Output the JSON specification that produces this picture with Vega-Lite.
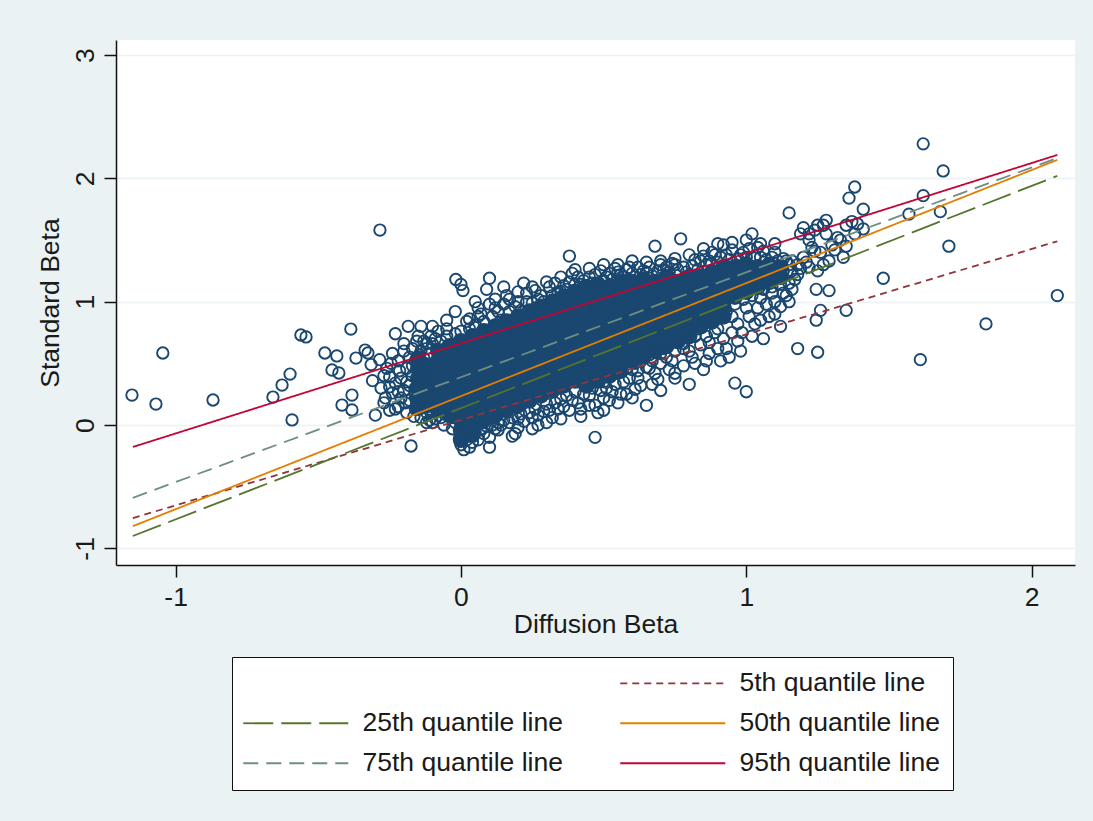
{"$schema":"https://vega.github.io/schema/vega-lite/v6.json","width":959,"height":525,"autosize":"none","padding":{"left":116,"top":40,"right":18,"bottom":256},"background":"#eaf2f3","view":{"fill":"white","stroke":null},"config":{"font":"Liberation Sans"},"datasets":{"dense":[
{"x":-0.15,"y":0.14},{"x":-0.15,"y":0.22},{"x":-0.15,"y":0.30},{"x":-0.15,"y":0.38},{"x":-0.15,"y":0.46},{"x":-0.15,"y":0.54},
{"x":0.44,"y":0.32},{"x":0.48,"y":0.36},{"x":0.52,"y":0.40},{"x":0.56,"y":0.44},{"x":0.60,"y":0.52},{"x":0.64,"y":0.56},{"x":0.68,"y":0.60},{"x":0.72,"y":0.64},{"x":0.76,"y":0.68},{"x":0.80,"y":0.72},{"x":0.84,"y":0.80},{"x":0.88,"y":0.84},{"x":0.92,"y":0.88},
{"x":-0.12,"y":0.16},{"x":-0.12,"y":0.24},{"x":-0.12,"y":0.32},{"x":-0.12,"y":0.40},{"x":-0.12,"y":0.48},
{"x":-0.08,"y":0.12},{"x":-0.08,"y":0.20},{"x":-0.08,"y":0.28},{"x":-0.08,"y":0.36},{"x":-0.08,"y":0.44},{"x":-0.08,"y":0.52},{"x":-0.08,"y":0.60},
{"x":-0.04,"y":0.08},{"x":-0.04,"y":0.16},{"x":-0.04,"y":0.24},{"x":-0.04,"y":0.32},{"x":-0.04,"y":0.40},{"x":-0.04,"y":0.48},{"x":-0.04,"y":0.56},{"x":-0.04,"y":0.64},
{"x":0.0,"y":-0.12},{"x":0.0,"y":-0.04},{"x":0.0,"y":0.04},{"x":0.0,"y":0.12},{"x":0.0,"y":0.20},{"x":0.0,"y":0.28},{"x":0.0,"y":0.36},{"x":0.0,"y":0.44},{"x":0.0,"y":0.52},{"x":0.0,"y":0.60},{"x":0.0,"y":0.68},
{"x":0.04,"y":-0.08},{"x":0.04,"y":0.0},{"x":0.04,"y":0.08},{"x":0.04,"y":0.16},{"x":0.04,"y":0.24},{"x":0.04,"y":0.32},{"x":0.04,"y":0.40},{"x":0.04,"y":0.48},{"x":0.04,"y":0.56},{"x":0.04,"y":0.64},{"x":0.04,"y":0.72},
{"x":0.08,"y":0.04},{"x":0.08,"y":0.12},{"x":0.08,"y":0.20},{"x":0.08,"y":0.28},{"x":0.08,"y":0.36},{"x":0.08,"y":0.44},{"x":0.08,"y":0.52},{"x":0.08,"y":0.60},{"x":0.08,"y":0.68},{"x":0.08,"y":0.76},
{"x":0.12,"y":0.08},{"x":0.12,"y":0.16},{"x":0.12,"y":0.24},{"x":0.12,"y":0.32},{"x":0.12,"y":0.40},{"x":0.12,"y":0.48},{"x":0.12,"y":0.56},{"x":0.12,"y":0.64},{"x":0.12,"y":0.72},{"x":0.12,"y":0.80},
{"x":0.16,"y":0.12},{"x":0.16,"y":0.20},{"x":0.16,"y":0.28},{"x":0.16,"y":0.36},{"x":0.16,"y":0.44},{"x":0.16,"y":0.52},{"x":0.16,"y":0.60},{"x":0.16,"y":0.68},{"x":0.16,"y":0.76},{"x":0.16,"y":0.84},
{"x":0.20,"y":0.16},{"x":0.20,"y":0.24},{"x":0.20,"y":0.32},{"x":0.20,"y":0.40},{"x":0.20,"y":0.48},{"x":0.20,"y":0.56},{"x":0.20,"y":0.64},{"x":0.20,"y":0.72},{"x":0.20,"y":0.80},{"x":0.20,"y":0.88},
{"x":0.24,"y":0.20},{"x":0.24,"y":0.28},{"x":0.24,"y":0.36},{"x":0.24,"y":0.44},{"x":0.24,"y":0.52},{"x":0.24,"y":0.60},{"x":0.24,"y":0.68},{"x":0.24,"y":0.76},{"x":0.24,"y":0.84},{"x":0.24,"y":0.92},
{"x":0.28,"y":0.24},{"x":0.28,"y":0.32},{"x":0.28,"y":0.40},{"x":0.28,"y":0.48},{"x":0.28,"y":0.56},{"x":0.28,"y":0.64},{"x":0.28,"y":0.72},{"x":0.28,"y":0.80},{"x":0.28,"y":0.88},{"x":0.28,"y":0.96},
{"x":0.32,"y":0.28},{"x":0.32,"y":0.36},{"x":0.32,"y":0.44},{"x":0.32,"y":0.52},{"x":0.32,"y":0.60},{"x":0.32,"y":0.68},{"x":0.32,"y":0.76},{"x":0.32,"y":0.84},{"x":0.32,"y":0.92},{"x":0.32,"y":1.00},
{"x":0.36,"y":0.32},{"x":0.36,"y":0.40},{"x":0.36,"y":0.48},{"x":0.36,"y":0.56},{"x":0.36,"y":0.64},{"x":0.36,"y":0.72},{"x":0.36,"y":0.80},{"x":0.36,"y":0.88},{"x":0.36,"y":0.96},{"x":0.36,"y":1.04},
{"x":0.40,"y":0.36},{"x":0.40,"y":0.44},{"x":0.40,"y":0.52},{"x":0.40,"y":0.60},{"x":0.40,"y":0.68},{"x":0.40,"y":0.76},{"x":0.40,"y":0.84},{"x":0.40,"y":0.92},{"x":0.40,"y":1.00},{"x":0.40,"y":1.08},
{"x":0.44,"y":0.40},{"x":0.44,"y":0.48},{"x":0.44,"y":0.56},{"x":0.44,"y":0.64},{"x":0.44,"y":0.72},{"x":0.44,"y":0.80},{"x":0.44,"y":0.88},{"x":0.44,"y":0.96},{"x":0.44,"y":1.04},{"x":0.44,"y":1.12},
{"x":0.48,"y":0.44},{"x":0.48,"y":0.52},{"x":0.48,"y":0.60},{"x":0.48,"y":0.68},{"x":0.48,"y":0.76},{"x":0.48,"y":0.84},{"x":0.48,"y":0.92},{"x":0.48,"y":1.00},{"x":0.48,"y":1.08},{"x":0.48,"y":1.14},
{"x":0.52,"y":0.48},{"x":0.52,"y":0.56},{"x":0.52,"y":0.64},{"x":0.52,"y":0.72},{"x":0.52,"y":0.80},{"x":0.52,"y":0.88},{"x":0.52,"y":0.96},{"x":0.52,"y":1.04},{"x":0.52,"y":1.12},
{"x":0.56,"y":0.52},{"x":0.56,"y":0.60},{"x":0.56,"y":0.68},{"x":0.56,"y":0.76},{"x":0.56,"y":0.84},{"x":0.56,"y":0.92},{"x":0.56,"y":1.00},{"x":0.56,"y":1.08},{"x":0.56,"y":1.16},
{"x":0.60,"y":0.60},{"x":0.60,"y":0.68},{"x":0.60,"y":0.76},{"x":0.60,"y":0.84},{"x":0.60,"y":0.92},{"x":0.60,"y":1.00},{"x":0.60,"y":1.08},{"x":0.60,"y":1.16},
{"x":0.64,"y":0.64},{"x":0.64,"y":0.72},{"x":0.64,"y":0.80},{"x":0.64,"y":0.88},{"x":0.64,"y":0.96},{"x":0.64,"y":1.04},{"x":0.64,"y":1.12},{"x":0.64,"y":1.18},
{"x":0.68,"y":0.68},{"x":0.68,"y":0.76},{"x":0.68,"y":0.84},{"x":0.68,"y":0.92},{"x":0.68,"y":1.00},{"x":0.68,"y":1.08},{"x":0.68,"y":1.16},
{"x":0.72,"y":0.72},{"x":0.72,"y":0.80},{"x":0.72,"y":0.88},{"x":0.72,"y":0.96},{"x":0.72,"y":1.04},{"x":0.72,"y":1.12},{"x":0.72,"y":1.20},
{"x":0.76,"y":0.76},{"x":0.76,"y":0.84},{"x":0.76,"y":0.92},{"x":0.76,"y":1.00},{"x":0.76,"y":1.08},{"x":0.76,"y":1.16},
{"x":0.80,"y":0.80},{"x":0.80,"y":0.88},{"x":0.80,"y":0.96},{"x":0.80,"y":1.04},{"x":0.80,"y":1.12},{"x":0.80,"y":1.20},
{"x":0.84,"y":0.88},{"x":0.84,"y":0.96},{"x":0.84,"y":1.04},{"x":0.84,"y":1.12},{"x":0.84,"y":1.20},
{"x":0.88,"y":0.92},{"x":0.88,"y":1.00},{"x":0.88,"y":1.08},{"x":0.88,"y":1.16},{"x":0.88,"y":1.24},
{"x":0.92,"y":0.96},{"x":0.92,"y":1.04},{"x":0.92,"y":1.12},{"x":0.92,"y":1.20},{"x":0.92,"y":1.28},
{"x":0.96,"y":1.04},{"x":0.96,"y":1.12},{"x":0.96,"y":1.20},{"x":0.96,"y":1.28},
{"x":1.00,"y":1.08},{"x":1.00,"y":1.16},{"x":1.00,"y":1.24},{"x":1.00,"y":1.30},
{"x":1.04,"y":1.12},{"x":1.04,"y":1.20},{"x":1.04,"y":1.28},
{"x":1.08,"y":1.16},{"x":1.08,"y":1.24},{"x":1.08,"y":1.30},
{"x":1.12,"y":1.20},{"x":1.12,"y":1.28}
],"hollow":[
{"x":-1.153,"y":0.243},{"x":-1.069,"y":0.17},{"x":-1.045,"y":0.584},{"x":-0.869,"y":0.203},{"x":-0.659,"y":0.227},{"x":-0.627,"y":0.324},{"x":-0.599,"y":0.413},{"x":-0.592,"y":0.041},{"x":-0.561,"y":0.73},{"x":-0.543,"y":0.714},{"x":-0.477,"y":0.584},{"x":-0.452,"y":0.446},{"x":-0.435,"y":0.56},{"x":-0.428,"y":0.422},{"x":-0.417,"y":0.162},{"x":-0.386,"y":0.778},{"x":-0.382,"y":0.243},{"x":-0.382,"y":0.122},{"x":-0.368,"y":0.543},{"x":-0.336,"y":0.608},{"x":-0.326,"y":0.584},{"x":-0.284,"y":1.581},
{"x":-0.315,"y":0.49},{"x":-0.31,"y":0.36},{"x":-0.30,"y":0.08},{"x":-0.285,"y":0.53},{"x":-0.27,"y":0.40},{"x":-0.265,"y":0.22},{"x":-0.25,"y":0.31},{"x":-0.245,"y":0.50},{"x":-0.23,"y":0.13},{"x":-0.23,"y":0.74},{"x":-0.22,"y":0.27},{"x":-0.215,"y":0.44},{"x":-0.20,"y":0.60},{"x":-0.195,"y":0.18},{"x":-0.19,"y":0.35},{"x":-0.185,"y":0.80},{"x":-0.175,"y":-0.17},{"x":-0.17,"y":0.48},{"x":-0.165,"y":0.07},{"x":-0.16,"y":0.24},{"x":-0.155,"y":0.68},{"x":-0.15,"y":0.37},{"x":-0.145,"y":0.57},{"x":-0.14,"y":0.80},{"x":-0.135,"y":0.14},{"x":-0.13,"y":0.46},{"x":-0.12,"y":0.66},{"x":-0.12,"y":0.02},{"x":-0.105,"y":0.72},{"x":-0.09,"y":0.05},{"x":-0.08,"y":0.76},{"x":-0.06,"y":0.0},{"x":-0.05,"y":0.78},{"x":-0.03,"y":-0.03},
{"x":-0.018,"y":1.18},{"x":0.0,"y":1.14},{"x":0.007,"y":1.09},{"x":-0.004,"y":-0.10},{"x":0.01,"y":-0.2},{"x":0.03,"y":0.86},{"x":0.04,"y":-0.14},{"x":0.06,"y":0.95},{"x":0.06,"y":0.88},{"x":0.09,"y":1.10},{"x":0.10,"y":0.98},{"x":0.10,"y":-0.18},{"x":0.10,"y":-0.10},{"x":0.10,"y":1.19},{"x":0.13,"y":0.92},{"x":0.13,"y":-0.04},{"x":0.16,"y":1.05},{"x":0.17,"y":1.02},{"x":0.18,"y":-0.09},{"x":0.19,"y":-0.07},{"x":0.22,"y":1.15},{"x":0.23,"y":1.0},{"x":0.25,"y":-0.03},{"x":0.26,"y":1.09},{"x":0.28,"y":1.05},{"x":0.30,"y":0.02},{"x":0.33,"y":1.15},{"x":0.35,"y":1.08},{"x":0.38,"y":0.12},{"x":0.38,"y":1.37},{"x":0.39,"y":1.23},{"x":0.42,"y":1.14},{"x":0.42,"y":0.07},{"x":0.45,"y":0.16},{"x":0.47,"y":-0.10},{"x":0.49,"y":1.25},{"x":0.48,"y":0.10},{"x":0.50,"y":0.22},{"x":0.51,"y":1.20},{"x":0.53,"y":0.27},{"x":0.55,"y":1.24},{"x":0.56,"y":0.25},{"x":0.59,"y":1.28},{"x":0.60,"y":0.45},{"x":0.61,"y":0.29},{"x":0.62,"y":0.38},{"x":0.64,"y":1.25},{"x":0.65,"y":0.16},{"x":0.66,"y":0.46},{"x":0.67,"y":0.33},{"x":0.68,"y":1.45},{"x":0.69,"y":0.37},{"x":0.70,"y":0.58},{"x":0.72,"y":1.28},{"x":0.74,"y":0.52},{"x":0.75,"y":1.30},{"x":0.77,"y":1.51},{"x":0.78,"y":0.62},{"x":0.80,"y":0.33},{"x":0.81,"y":0.55},{"x":0.82,"y":0.72},{"x":0.84,"y":1.33},{"x":0.86,"y":0.52},{"x":0.87,"y":0.67},{"x":0.89,"y":1.38},{"x":0.90,"y":0.78},{"x":0.91,"y":0.52},{"x":0.92,"y":1.46},{"x":0.94,"y":0.55},{"x":0.95,"y":0.88},{"x":0.96,"y":0.34},{"x":0.98,"y":0.60},{"x":0.985,"y":0.75},{"x":0.99,"y":1.40},{"x":1.0,"y":0.27},{"x":1.0,"y":0.95},{"x":1.02,"y":1.55},{"x":1.03,"y":0.82},{"x":1.04,"y":1.44},{"x":1.05,"y":1.03},{"x":1.06,"y":0.70},{"x":1.08,"y":0.88},{"x":1.09,"y":1.07},{"x":1.10,"y":1.40},{"x":1.12,"y":0.96},{"x":1.12,"y":0.80},{"x":1.14,"y":1.33},{"x":1.14,"y":1.05},{"x":1.15,"y":1.72},{"x":1.17,"y":1.18},{"x":1.19,"y":1.27},{"x":1.18,"y":0.62},{"x":1.19,"y":1.55},{"x":1.21,"y":1.32},{"x":1.22,"y":1.50},{"x":1.24,"y":1.41},{"x":1.24,"y":1.58},{"x":1.245,"y":1.10},{"x":1.245,"y":0.85},{"x":1.25,"y":0.59},{"x":1.26,"y":0.93},{"x":1.27,"y":1.62},{"x":1.29,"y":1.33},{"x":1.29,"y":1.09},{"x":1.30,"y":1.46},{"x":1.32,"y":1.52},{"x":1.34,"y":1.36},{"x":1.35,"y":0.93},{"x":1.35,"y":1.62},{"x":1.36,"y":1.84},{"x":1.38,"y":1.93},{"x":1.39,"y":1.63},{"x":1.41,"y":1.75},{"x":1.41,"y":1.59},{"x":1.48,"y":1.19},{"x":1.57,"y":1.71},{"x":1.61,"y":0.53},{"x":1.62,"y":1.86},{"x":1.62,"y":2.28},{"x":1.68,"y":1.73},{"x":1.69,"y":2.06},{"x":1.71,"y":1.45},{"x":1.84,"y":0.82},{"x":2.09,"y":1.05},
{"x":-0.28,"y":0.30},{"x":-0.27,"y":0.18},{"x":-0.26,"y":0.46},{"x":-0.25,"y":0.12},{"x":-0.25,"y":0.39},{"x":-0.24,"y":0.58},{"x":-0.24,"y":0.26},{"x":-0.23,"y":0.34},{"x":-0.22,"y":0.52},{"x":-0.22,"y":0.15},{"x":-0.21,"y":0.22},{"x":-0.21,"y":0.38},{"x":-0.20,"y":0.66},{"x":-0.20,"y":0.28},{"x":-0.19,"y":0.46},{"x":-0.19,"y":0.10},{"x":-0.18,"y":0.55},{"x":-0.18,"y":0.32},{"x":-0.18,"y":0.20},{"x":-0.17,"y":0.62},{"x":-0.17,"y":0.40},{"x":-0.16,"y":0.13},{"x":-0.16,"y":0.52},{"x":-0.16,"y":0.30},{"x":-0.15,"y":0.72},{"x":-0.15,"y":0.20},{"x":-0.15,"y":0.44},{"x":-0.14,"y":0.60},{"x":-0.14,"y":0.06},{"x":-0.14,"y":0.28},{"x":-0.13,"y":0.36},{"x":-0.13,"y":0.54},{"x":-0.13,"y":0.68},{"x":-0.12,"y":0.10},{"x":-0.12,"y":0.62},{"x":-0.11,"y":0.58},{"x":-0.11,"y":0.04},{"x":-0.10,"y":0.66},{"x":-0.10,"y":0.11},{"x":-0.09,"y":0.70},{"x":-0.07,"y":0.06},{"x":-0.07,"y":0.68},{"x":-0.05,"y":0.72},{"x":-0.02,"y":0.02},{"x":-0.02,"y":0.74},
{"x":0.0,"y":0.76},{"x":0.02,"y":0.84},{"x":0.03,"y":0.78},{"x":0.05,"y":0.81},{"x":0.07,"y":0.9},{"x":0.08,"y":0.84},{"x":0.11,"y":0.88},{"x":0.12,"y":0.95},{"x":0.14,"y":0.85},{"x":0.15,"y":0.98},{"x":0.17,"y":0.92},{"x":0.19,"y":0.96},{"x":0.2,"y":1.0},{"x":0.21,"y":0.93},{"x":0.23,"y":1.07},{"x":0.25,"y":0.99},{"x":0.27,"y":1.02},{"x":0.29,"y":1.0},{"x":0.31,"y":1.12},{"x":0.32,"y":1.05},{"x":0.34,"y":1.08},{"x":0.36,"y":1.13},{"x":0.37,"y":1.1},{"x":0.38,"y":1.16},{"x":0.4,"y":1.14},{"x":0.41,"y":1.2},{"x":0.43,"y":1.17},{"x":0.45,"y":1.2},{"x":0.46,"y":1.15},{"x":0.47,"y":1.22},{"x":0.5,"y":1.17},{"x":0.52,"y":1.23},{"x":0.53,"y":1.18},{"x":0.54,"y":1.27},{"x":0.56,"y":1.22},{"x":0.57,"y":1.2},{"x":0.58,"y":1.26},{"x":0.6,"y":1.23},{"x":0.62,"y":1.28},{"x":0.63,"y":1.22},{"x":0.65,"y":1.24},{"x":0.66,"y":1.28},{"x":0.67,"y":1.21},{"x":0.69,"y":1.25},{"x":0.7,"y":1.3},{"x":0.71,"y":1.26},{"x":0.73,"y":1.24},{"x":0.74,"y":1.31},{"x":0.76,"y":1.26},{"x":0.78,"y":1.28},{"x":0.79,"y":1.24},{"x":0.81,"y":1.29},{"x":0.82,"y":1.34},{"x":0.83,"y":1.26},{"x":0.85,"y":1.37},{"x":0.86,"y":1.3},{"x":0.87,"y":1.33},{"x":0.88,"y":1.4},{"x":0.9,"y":1.32},{"x":0.91,"y":1.36},{"x":0.93,"y":1.38},{"x":0.94,"y":1.34},{"x":0.95,"y":1.42},{"x":0.97,"y":1.35},{"x":0.98,"y":1.38},{"x":1.0,"y":1.36},{"x":1.01,"y":1.43},{"x":1.03,"y":1.37},{"x":1.05,"y":1.36},{"x":1.06,"y":1.41},{"x":1.07,"y":1.34},{"x":1.09,"y":1.36},{"x":1.11,"y":1.33},{"x":1.13,"y":1.35},{"x":1.15,"y":1.3},{"x":1.16,"y":1.25},{"x":1.13,"y":1.25},{"x":1.16,"y":1.33},{"x":1.18,"y":1.22},{"x":1.2,"y":1.36},{"x":1.22,"y":1.28},
{"x":0.0,"y":-0.16},{"x":0.02,"y":-0.12},{"x":0.03,"y":-0.18},{"x":0.05,"y":-0.06},{"x":0.06,"y":-0.12},{"x":0.07,"y":-0.03},{"x":0.08,"y":-0.07},{"x":0.09,"y":-0.01},{"x":0.11,"y":0.0},{"x":0.12,"y":-0.03},{"x":0.13,"y":0.02},{"x":0.14,"y":0.0},{"x":0.15,"y":0.04},{"x":0.17,"y":0.02},{"x":0.18,"y":0.06},{"x":0.2,"y":0.05},{"x":0.21,"y":0.09},{"x":0.22,"y":0.03},{"x":0.24,"y":0.1},{"x":0.25,"y":0.06},{"x":0.26,"y":0.13},{"x":0.27,"y":0.08},{"x":0.29,"y":0.11},{"x":0.3,"y":0.17},{"x":0.31,"y":0.12},{"x":0.33,"y":0.18},{"x":0.34,"y":0.13},{"x":0.35,"y":0.21},{"x":0.36,"y":0.15},{"x":0.37,"y":0.24},{"x":0.39,"y":0.2},{"x":0.4,"y":0.27},{"x":0.41,"y":0.18},{"x":0.43,"y":0.25},{"x":0.44,"y":0.32},{"x":0.45,"y":0.24},{"x":0.46,"y":0.3},{"x":0.47,"y":0.37},{"x":0.49,"y":0.28},{"x":0.5,"y":0.35},{"x":0.51,"y":0.3},{"x":0.52,"y":0.4},{"x":0.54,"y":0.33},{"x":0.55,"y":0.42},{"x":0.57,"y":0.35},{"x":0.58,"y":0.46},{"x":0.59,"y":0.38},{"x":0.61,"y":0.5},{"x":0.62,"y":0.44},{"x":0.63,"y":0.55},{"x":0.65,"y":0.47},{"x":0.66,"y":0.57},{"x":0.67,"y":0.52},{"x":0.68,"y":0.6},{"x":0.7,"y":0.5},{"x":0.71,"y":0.62},{"x":0.72,"y":0.55},{"x":0.73,"y":0.66},{"x":0.75,"y":0.6},{"x":0.76,"y":0.7},{"x":0.78,"y":0.66},{"x":0.79,"y":0.75},{"x":0.8,"y":0.6},{"x":0.83,"y":0.78},{"x":0.84,"y":0.65},{"x":0.85,"y":0.82},{"x":0.86,"y":0.72},{"x":0.88,"y":0.85},{"x":0.89,"y":0.75},{"x":0.91,"y":0.88},{"x":0.92,"y":0.7},{"x":0.93,"y":0.92},{"x":0.95,"y":0.75},{"x":0.96,"y":0.98},{"x":0.97,"y":0.82},{"x":0.99,"y":1.02},{"x":1.01,"y":0.88},{"x":1.02,"y":1.05},{"x":1.04,"y":0.95},{"x":1.06,"y":1.1},{"x":1.07,"y":0.98},{"x":1.09,"y":1.12},{"x":1.1,"y":1.0},{"x":1.12,"y":1.14},{"x":1.13,"y":1.07},{"x":1.15,"y":1.15},{"x":1.16,"y":1.1},
{"x":1.22,"y":1.55},{"x":1.23,"y":1.44},{"x":1.25,"y":1.62},{"x":1.26,"y":1.4},{"x":1.28,"y":1.55},{"x":1.28,"y":1.66},{"x":1.2,"y":1.6},{"x":1.25,"y":1.25},{"x":1.31,"y":1.42},{"x":1.33,"y":1.5},{"x":1.35,"y":1.45},{"x":1.38,"y":1.55},{"x":1.37,"y":1.65},{"x":1.27,"y":1.3},{"x":1.18,"y":1.3},
{"x":0.05,"y":1.0},{"x":0.12,"y":1.02},{"x":0.15,"y":1.12},{"x":0.2,"y":1.08},{"x":0.25,"y":1.12},{"x":0.3,"y":1.16},{"x":0.35,"y":1.2},{"x":0.4,"y":1.26},{"x":0.45,"y":1.27},{"x":0.5,"y":1.3},{"x":0.55,"y":1.3},{"x":0.6,"y":1.33},{"x":0.65,"y":1.32},{"x":0.7,"y":1.33},{"x":0.75,"y":1.35},{"x":0.8,"y":1.38},{"x":0.85,"y":1.43},{"x":0.9,"y":1.47},{"x":0.95,"y":1.48},{"x":1.0,"y":1.5},{"x":1.05,"y":1.47},{"x":1.1,"y":1.47},{"x":-0.05,"y":0.85},{"x":-0.1,"y":0.8},{"x":-0.02,"y":0.92},{"x":-0.1,"y":0.02},
{"x":0.5,"y":0.12},{"x":0.55,"y":0.18},{"x":0.7,"y":0.28},{"x":0.75,"y":0.42},{"x":0.85,"y":0.45},{"x":0.9,"y":0.62},{"x":0.75,"y":0.38},{"x":0.6,"y":0.22},{"x":0.35,"y":0.05},{"x":0.2,"y":-0.02},{"x":0.27,"y":0.0},{"x":0.32,"y":0.06},{"x":0.42,"y":0.13},{"x":0.47,"y":0.16},{"x":0.52,"y":0.2},{"x":0.58,"y":0.25},{"x":0.63,"y":0.32},{"x":0.68,"y":0.42},{"x":0.73,"y":0.45},{"x":0.78,"y":0.48},{"x":0.82,"y":0.5},{"x":0.87,"y":0.58},{"x":0.93,"y":0.62},{"x":0.97,"y":0.68},{"x":1.02,"y":0.72},{"x":1.05,"y":0.85},{"x":1.1,"y":0.9},{"x":1.15,"y":1.0}
],"lines":[
{"q":"5th quantile line","x":-1.15,"y":-0.755},{"q":"5th quantile line","x":2.09,"y":1.49},
{"q":"25th quantile line","x":-1.15,"y":-0.90},{"q":"25th quantile line","x":2.09,"y":2.02},
{"q":"50th quantile line","x":-1.15,"y":-0.82},{"q":"50th quantile line","x":2.09,"y":2.15},
{"q":"75th quantile line","x":-1.15,"y":-0.59},{"q":"75th quantile line","x":2.09,"y":2.165},
{"q":"95th quantile line","x":-1.15,"y":-0.178},{"q":"95th quantile line","x":2.09,"y":2.19}
]},"layer":[
{"data":{"name":"dense"},"mark":{"type":"point","shape":"circle","filled":true,"size":270,"color":"#1a476f","opacity":1,"clip":true},"encoding":{"x":{"field":"x","type":"quantitative","scale":{"domain":[-1.209,2.152],"nice":false,"zero":false},"axis":{"title":"Diffusion Beta","titleFontSize":26.5,"titleFontWeight":"normal","titleColor":"#1a1a1a","titlePadding":1,"labelFontSize":26.5,"labelColor":"#1a1a1a","labelExpr":"''+datum.value","values":[-1,0,1,2],"tickSize":12,"tickColor":"#111","tickWidth":1.5,"domainColor":"#111","domainWidth":1.5,"grid":false,"labelPadding":7,"labelFlush":false}},"y":{"field":"y","type":"quantitative","scale":{"domain":[-1.135,3.122],"nice":false,"zero":false},"axis":{"title":"Standard Beta","titleFontSize":26.5,"titleFontWeight":"normal","titleColor":"#1a1a1a","titlePadding":8,"labelFontSize":26.5,"labelColor":"#1a1a1a","labelExpr":"''+datum.value","labelAngle":-90,"labelAlign":"center","labelBaseline":"bottom","values":[-1,0,1,2,3],"tickSize":12,"tickColor":"#111","tickWidth":1.5,"domainColor":"#111","domainWidth":1.5,"grid":true,"gridColor":"#eaf2f3","gridWidth":1.5,"labelPadding":5}}}},
{"data":{"name":"hollow"},"mark":{"type":"point","shape":"circle","filled":false,"size":130,"color":"#1a476f","strokeWidth":1.9,"opacity":1,"clip":true},"encoding":{"x":{"field":"x","type":"quantitative"},"y":{"field":"y","type":"quantitative"}}},
{"data":{"name":"lines"},"mark":{"type":"line","strokeWidth":1.8,"clip":true},"encoding":{"x":{"field":"x","type":"quantitative"},"y":{"field":"y","type":"quantitative"},"color":{"field":"q","type":"nominal","scale":{"domain":[" ","25th quantile line","75th quantile line","5th quantile line","50th quantile line","95th quantile line"],"range":["transparent","#55752f","#6e8e84","#90353b","#e37e00","#c10534"]},"legend":{"title":null,"orient":"none","legendX":116,"legendY":617,"columns":2,"fillColor":"white","strokeColor":"#111","padding":13,"labelFontSize":26.5,"labelColor":"#1a1a1a","symbolType":"M-3,0H18","symbolSize":100,"symbolStrokeWidth":1.8,"labelOffset":91,"columnPadding":53,"rowPadding":13,"labelLimit":300}},"strokeDash":{"field":"q","type":"nominal","scale":{"domain":[" ","25th quantile line","75th quantile line","5th quantile line","50th quantile line","95th quantile line"],"range":[[1,0],[30,8],[15,8],[7,5],[1,0],[1,0]]},"legend":null}}}
]}
